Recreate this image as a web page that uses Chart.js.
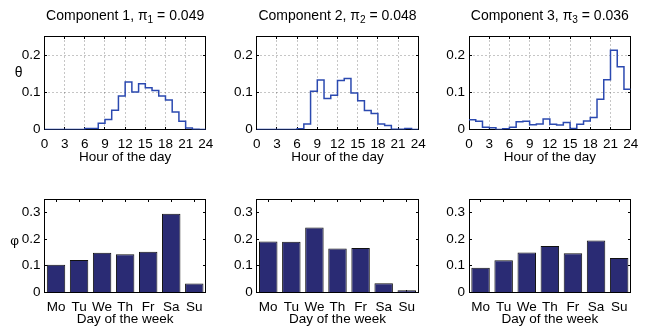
<!DOCTYPE html>
<html><head><meta charset="utf-8">
<script src="https://cdn.jsdelivr.net/npm/chart.js@4/dist/chart.umd.min.js"></script>
<style>
html,body{margin:0;padding:0;background:#fff;}
#wrap{position:relative;width:650px;height:330px;overflow:hidden;background:#fff;}
canvas{position:absolute;}
</style></head><body><div id="wrap"></div>
<script>
// ---------- data ----------
const hourEdges = [0,1,2,3,4,5,6,7,8,9,10,11,12,13,14,15,16,17,18,19,20,21,22,23,24];
const hourTicks = [0,3,6,9,12,15,18,21,24];
const thetaTicks = [0,0.1,0.2];
const phiTicks = [0,0.1,0.2,0.3];
const days = ['Mo','Tu','We','Th','Fr','Sa','Su'];
const componentNames = ['Component 1','Component 2','Component 3'];
const mixWeights = [0.049,0.048,0.036];
const theta1 = [0,0,0,0,0,0,0.003,0.003,0.017,0.027,0.052,0.090,0.128,0.101,0.123,0.112,0.105,0.090,0.079,0.047,0.022,0.004,0.001,0.000];
const theta2 = [0,0,0,0,0,0,0.002,0.015,0.103,0.133,0.083,0.092,0.132,0.137,0.098,0.077,0.051,0.043,0.015,0.011,0.001,0.001,0.003,0.000];
const theta3 = [0.026,0.022,0.006,0.005,0.000,0.002,0.006,0.021,0.022,0.013,0.015,0.028,0.014,0.012,0.019,0.003,0.014,0.023,0.032,0.081,0.134,0.213,0.169,0.108];
const phi1 = [0.104,0.122,0.149,0.143,0.153,0.296,0.033];
const phi2 = [0.191,0.190,0.244,0.165,0.167,0.034,0.008];
const phi3 = [0.092,0.121,0.150,0.174,0.147,0.195,0.129];
const thetas = [theta1, theta2, theta3];
const phis = [phi1, phi2, phi3];

// ---------- layout & style ----------
const FONT = "'Liberation Sans', Arial, sans-serif";
const TICK_FS = 13.5, LABEL_FS = 13.5, TITLE_FS = 14;
const cols = [
  {x:0,   w:225, plotL:44.5,  plotR:205.8},
  {x:215, w:225, plotL:256.7, plotR:418.3},
  {x:430, w:220, plotL:469,   plotR:630.7}
];
const rows = [
  {y:0,   h:170, plotT:36.5,  plotB:129.5, tickPad:7, titlePad:5},
  {y:170, h:160, plotT:199.3, plotB:292.3, tickPad:7, titlePad:2.5}
];
const LINE_COLOR = '#2b49b0';
const BAR_COLOR = '#2a2b74';
const wrap = document.getElementById('wrap');

function makeCanvas(c, r){
  const cv = document.createElement('canvas');
  cv.width = c.w; cv.height = r.h;
  cv.style.left = c.x + 'px'; cv.style.top = r.y + 'px';
  cv.style.width = c.w + 'px'; cv.style.height = r.h + 'px';
  wrap.appendChild(cv);
  return cv;
}

function decoPlugin(opt){
  return {
    id: 'deco',
    beforeDatasetsDraw(chart){
      const ctx = chart.ctx, a = chart.chartArea;
      const xs = chart.scales.x, ys = chart.scales.y;
      const L = Math.floor(a.left)+0.5, R = Math.floor(a.right)+0.5, T = Math.floor(a.top)+0.5, B = Math.floor(a.bottom)+0.5;
      ctx.save();
      if (opt.grid){
        ctx.strokeStyle = 'rgba(0,0,0,0.45)';
        ctx.lineWidth = 1;
        ctx.setLineDash([1,3]);
        opt.xTicks.forEach(v=>{
          const px = Math.floor(xs.getPixelForValue(v))+0.5;
          if (px <= L+1 || px >= R-1) return;
          ctx.beginPath(); ctx.moveTo(px, B); ctx.lineTo(px, T); ctx.stroke();
        });
        opt.yTicks.forEach(v=>{
          const py = Math.floor(ys.getPixelForValue(v))+0.5;
          if (py >= B-1 || py <= T+1) return;
          ctx.beginPath(); ctx.moveTo(L, py); ctx.lineTo(R, py); ctx.stroke();
        });
        ctx.setLineDash([]);
      }
      // frame
      ctx.strokeStyle = '#000';
      ctx.lineWidth = 1;
      ctx.strokeRect(L, T, R-L, B-T);
      // inner ticks
      const tl = 2.5;
      ctx.beginPath();
      const xVals = opt.xTicks ? opt.xTicks.map(v=>xs.getPixelForValue(v)) : xs.ticks.map((t,i)=>xs.getPixelForTick(i));
      xVals.forEach(p=>{
        const px = Math.floor(p)+0.5;
        ctx.moveTo(px, B); ctx.lineTo(px, B-tl);
        ctx.moveTo(px, T); ctx.lineTo(px, T+tl);
      });
      opt.yTicks.forEach(v=>{
        const py = Math.floor(ys.getPixelForValue(v))+0.5;
        ctx.moveTo(L, py); ctx.lineTo(L+tl, py);
        ctx.moveTo(R, py); ctx.lineTo(R-tl, py);
      });
      ctx.stroke();
      ctx.restore();
    },
    afterDraw(chart){
      const ctx = chart.ctx, a = chart.chartArea;
      ctx.save();
      ctx.fillStyle = '#000';
      if (opt.title){
        const main1 = opt.title.name + ', \u03c0';
        const sub = String(opt.title.idx);
        const main2 = ' = ' + opt.title.pi.toFixed(3);
        const mf = TITLE_FS + 'px ' + FONT, sf = (TITLE_FS*0.72).toFixed(1) + 'px ' + FONT;
        ctx.font = mf; const w1 = ctx.measureText(main1).width, w3 = ctx.measureText(main2).width;
        ctx.font = sf; const w2 = ctx.measureText(sub).width;
        let x = (a.left + a.right)/2 - (w1+w2+w3)/2;
        const y = 19.5;
        ctx.textBaseline = 'alphabetic'; ctx.textAlign = 'left';
        ctx.font = mf; ctx.fillText(main1, x, y); x += w1;
        ctx.font = sf; ctx.fillText(sub, x, y + 3.2); x += w2;
        ctx.font = mf; ctx.fillText(main2, x, y);
      }
      if (opt.sym){
        ctx.font = opt.sym.size + 'px ' + FONT;
        ctx.textAlign = 'center'; ctx.textBaseline = 'middle';
        ctx.fillText(opt.sym.text, opt.sym.x, opt.sym.y);
      }
      ctx.restore();
    }
  };
}

// ---------- top row: hourly profiles ----------
thetas.forEach((theta, i)=>{
  const c = cols[i], r = rows[0];
  const cv = makeCanvas(c, r);
  const pts = hourEdges.map((h, k)=>({x:h, y: theta[Math.min(k, theta.length-1)]}));
  new Chart(cv, {
    type: 'line',
    data: {datasets: [{data: pts, stepped: 'before', borderColor: LINE_COLOR, borderWidth: 1.5, pointRadius: 0, fill: false, tension: 0}]},
    options: {
      responsive: false, animation: false, devicePixelRatio: 1, events: [],
      layout: {padding: {left: 0, right: c.w - (c.plotR - c.x), top: r.plotT - r.y, bottom: 0}},
      plugins: {legend: {display:false}, tooltip: {enabled:false}, title: {display:false}},
      scales: {
        x: {
          type: 'linear', min: 0, max: 24,
          afterBuildTicks: s => { s.ticks = hourTicks.map(v=>({value:v})); },
          afterFit: s => { s.height = r.h - (r.plotB - r.y); },
          grid: {display:false, drawTicks:false}, border: {display:false},
          ticks: {padding: r.tickPad, color:'#000', font:{family:FONT, size:TICK_FS}, maxRotation:0, autoSkip:false, callback: v => String(v)},
          title: {display:true, text:'Hour of the day', color:'#000', font:{family:FONT, size:LABEL_FS}, padding:{top:0, bottom:r.titlePad}}
        },
        y: {
          min: 0, max: 0.25,
          afterBuildTicks: s => { s.ticks = thetaTicks.map(v=>({value:v})); },
          afterFit: s => { s.width = c.plotL - c.x; },
          grid: {display:false, drawTicks:false}, border: {display:false},
          ticks: {padding: 4, color:'#000', font:{family:FONT, size:TICK_FS}, callback: v => String(v)}
        }
      }
    },
    plugins: [decoPlugin({
      grid: true, xTicks: hourTicks, yTicks: thetaTicks,
      title: {name: componentNames[i], idx: i+1, pi: mixWeights[i]},
      sym: i === 0 ? {text:'\u03b8', x:18.7, y:73, size:14} : null
    })]
  });
});

// ---------- bottom row: day-of-week profiles ----------
phis.forEach((phi, i)=>{
  const c = cols[i], r = rows[1];
  const cv = makeCanvas(c, r);
  new Chart(cv, {
    type: 'bar',
    data: {labels: days, datasets: [{data: phi, backgroundColor: BAR_COLOR, borderColor: '#111', borderWidth: 1, barPercentage: 0.8, categoryPercentage: 1.0}]},
    options: {
      responsive: false, animation: false, devicePixelRatio: 1, events: [],
      layout: {padding: {left: 0, right: c.w - (c.plotR - c.x), top: r.plotT - r.y, bottom: 0}},
      plugins: {legend: {display:false}, tooltip: {enabled:false}, title: {display:false}},
      scales: {
        x: {
          type: 'category', offset: true,
          afterFit: s => { s.height = r.h - (r.plotB - r.y); },
          grid: {display:false, drawTicks:false, offset:true}, border: {display:false},
          ticks: {padding: r.tickPad, color:'#000', font:{family:FONT, size:TICK_FS}, maxRotation:0, autoSkip:false},
          title: {display:true, text:'Day of the week', color:'#000', font:{family:FONT, size:LABEL_FS}, padding:{top:0, bottom:r.titlePad}}
        },
        y: {
          min: 0, max: 0.35,
          afterBuildTicks: s => { s.ticks = phiTicks.map(v=>({value:v})); },
          afterFit: s => { s.width = c.plotL - c.x; },
          grid: {display:false, drawTicks:false}, border: {display:false},
          ticks: {padding: 4, color:'#000', font:{family:FONT, size:TICK_FS}, callback: v => String(v)}
        }
      }
    },
    plugins: [decoPlugin({
      grid: false, xTicks: null, yTicks: phiTicks,
      sym: i === 0 ? {text:'\u03c6', x:14.7, y:71, size:13.5} : null
    })]
  });
});
</script>
</body></html>
